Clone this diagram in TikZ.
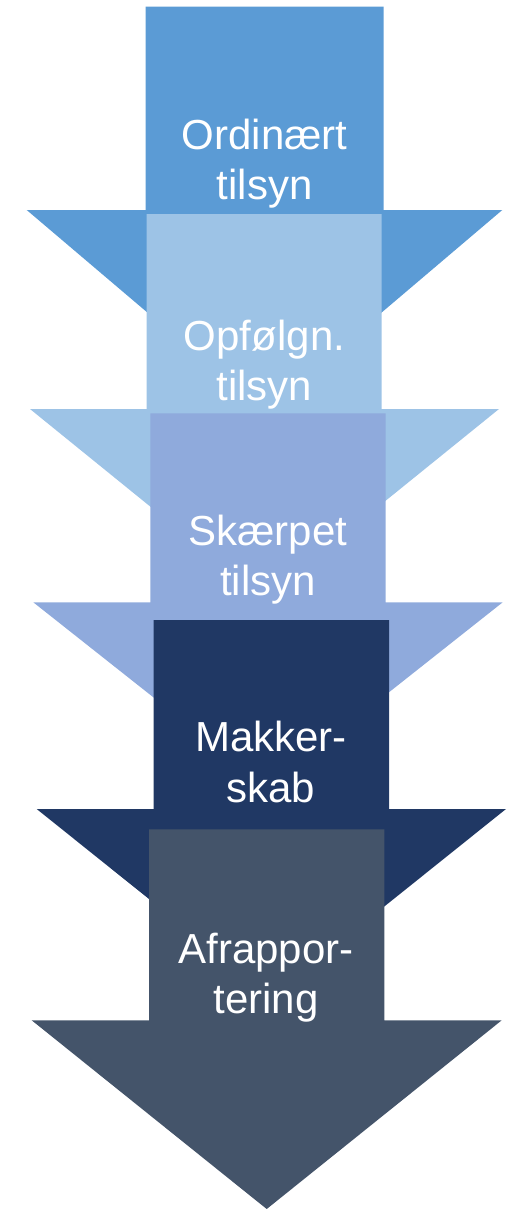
\documentclass[tikz,border=0pt]{standalone}
\usepackage{fontspec}
\setmainfont{Liberation Sans}
\definecolor{cA}{HTML}{5B9BD5}
\definecolor{cB}{HTML}{9DC3E6}
\definecolor{cC}{HTML}{8FAADC}
\definecolor{cD}{HTML}{203864}
\definecolor{cE}{HTML}{44546A}
\begin{document}
\begin{tikzpicture}[x=1pt,y=-1pt,
  lbl/.style={text=white,align=center,anchor=base,inner sep=0pt,
    font=\fontsize{42}{50.5}\selectfont}]
\useasboundingbox (0,0) rectangle (513,1209);
% arrow 1
\fill[cA] (145.5,6.7) -- (383.5,6.7) -- (383.5,210) -- (502.3,210) -- (264.5,412) -- (26.7,210) -- (145.5,210) -- cycle;
% arrow 2
\fill[cB] (146.7,214) -- (381.7,214) -- (381.7,409) -- (499,409) -- (264.2,599) -- (30,409) -- (146.7,409) -- cycle;
% arrow 3
\fill[cC] (150.3,413.3) -- (385.7,413.3) -- (385.7,602.3) -- (502.7,602.3) -- (268,788) -- (33.3,602.3) -- (150.3,602.3) -- cycle;
% arrow 4
\fill[cD] (153.7,620) -- (389,620) -- (389,809) -- (506,809) -- (271.3,997) -- (36.7,809) -- (153.7,809) -- cycle;
% arrow 5
\fill[cE] (149,829.3) -- (384.3,829.3) -- (384.3,1020.3) -- (501.7,1020.3) -- (266.7,1209) -- (31.7,1020.3) -- (149,1020.3) -- cycle;
% labels (base anchor = baseline of the last line)
\node[lbl] (t1) at (264.7,199.5) {Ordinært\\tilsyn};
\node[lbl] (t2) at (264.5,400.5) {Opfølgn.\\tilsyn};
\node[lbl] (t3) at (268,595.5) {Skærpet\\tilsyn};
\node[lbl] (t4) at (271,802.2) {Makker-\\skab};
\node[lbl] (t5) at (266,1013.5) {Afrappor-\\tering};
\end{tikzpicture}
\end{document}
